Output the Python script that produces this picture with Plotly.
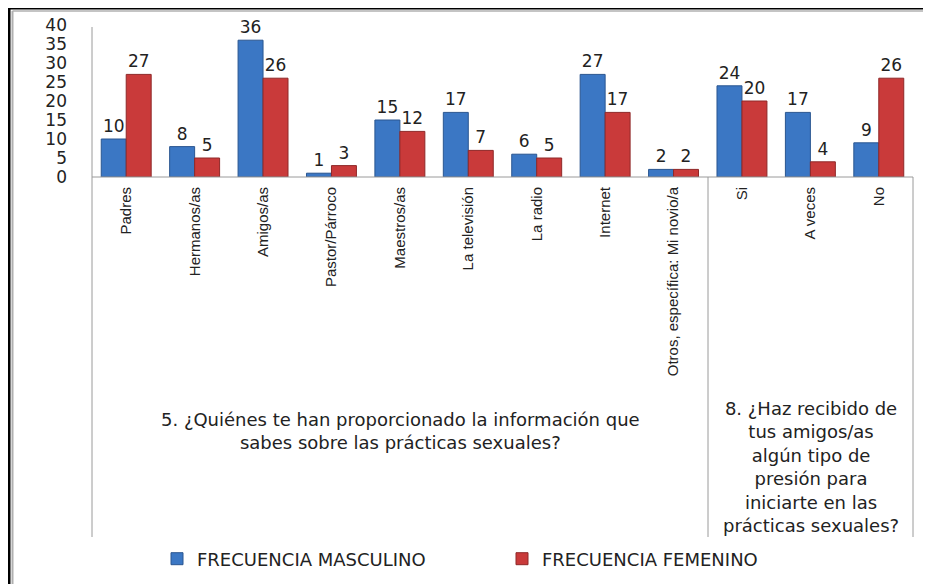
import plotly.graph_objects as go

categorias = ["Padres", "Hermanos/as", "Amigos/as", "Pastor/Párroco", "Maestros/as",
              "La televisión", "La radio", "Internet", "Otros, específica: Mi novio/a",
              "Si", "A veces", "No"]
masculino = [10, 8, 36, 1, 15, 17, 6, 27, 2, 24, 17, 9]
femenino = [27, 5, 26, 3, 12, 7, 5, 17, 2, 20, 4, 26]

pregunta_5 = "5. ¿Quiénes te han proporcionado la información que<br>sabes sobre las prácticas sexuales?"
pregunta_8 = ("8. ¿Haz recibido de<br>tus amigos/as<br>algún tipo de<br>presión para"
              "<br>iniciarte en las<br>prácticas sexuales?")

# the page puts the figure 8px in from the top-left corner of the window
OFF = 8
W, H = 931 - OFF, 584 - OFF
# plot area in screen pixels (B = zero line)
L, R, T, B = 92, 913, 25, 177


def px(x):
    return (x - L) / (R - L)


def py(y):
    return (H - (y - OFF)) / (H - (T - OFF))


fig = go.Figure()
fig.add_trace(go.Bar(
    x=categorias, y=masculino, name="FRECUENCIA MASCULINO",
    marker=dict(color="#3b77c4", line=dict(color="#2a5690", width=1)),
    text=masculino, textposition="outside", cliponaxis=False,
    textfont=dict(family="DejaVu Sans", size=17, color="#222"),
))
fig.add_trace(go.Bar(
    x=categorias, y=femenino, name="FRECUENCIA FEMENINO",
    marker=dict(color="#c93a3a", line=dict(color="#8f2828", width=1)),
    text=femenino, textposition="outside", cliponaxis=False,
    textfont=dict(family="DejaVu Sans", size=17, color="#222"),
))

gray = "#9a9a9a"


def line(x0, y0, x1, y1, color, width):
    return dict(type="line", xref="paper", yref="paper", x0=px(x0), x1=px(x1),
                y0=py(y0), y1=py(y1), line=dict(color=color, width=width))


shapes = [
    # outer frame
    line(9, 8.5, 940, 8.5, "black", 2),
    line(9, 8, 9, 600, "black", 3),
    line(12.5, 11, 12.5, 600, "#b0b0b0", 2),
    line(12.5, 11, 940, 11, "#b0b0b0", 1.5),
    # axes and group separators
    line(L, 27, L, 537, gray, 1),
    line(L, B, R, B, gray, 1),
    line(708, B, 708, 537, gray, 1),
    line(R, B, R, 537, gray, 1),
]

fig.update_layout(
    width=W, height=H,
    margin=dict(l=L - OFF, r=931 - R, t=T - OFF, b=0, autoexpand=False),
    paper_bgcolor="white", plot_bgcolor="white",
    barmode="group", bargap=0.27, bargroupgap=0,
    shapes=shapes,
    showlegend=True,
    legend=dict(orientation="h", x=px(157), y=py(559), xanchor="left", yanchor="middle",
                font=dict(family="DejaVu Sans", size=18, color="#222"),
                bgcolor="rgba(0,0,0,0)",
                entrywidth=300, entrywidthmode="pixels", itemwidth=30),
    annotations=[
        dict(text=pregunta_5, xref="paper", yref="paper", x=px(400), y=py(407),
             xanchor="center", yanchor="top", showarrow=False, align="center",
             font=dict(family="DejaVu Sans", size=18, color="#222")),
        dict(text=pregunta_8, xref="paper", yref="paper", x=px(811), y=py(396),
             xanchor="center", yanchor="top", showarrow=False, align="center",
             font=dict(family="DejaVu Sans", size=18, color="#222")),
    ],
)
fig.update_xaxes(
    tickangle=-90, showline=False, showgrid=False, ticks="", automargin=False,
    tickfont=dict(family="Liberation Sans Narrow, Liberation Sans, sans-serif", size=15,
                  color="#222"),
    ticklabelstandoff=6,
)
fig.update_yaxes(
    domain=[py(B), 1],
    range=[0, 40], dtick=5, showgrid=False, showline=False, zeroline=False, ticks="",
    automargin=False, ticklabelstandoff=24,
    tickfont=dict(family="DejaVu Sans", size=17, color="#222"),
)

fig.write_html("out.html")
